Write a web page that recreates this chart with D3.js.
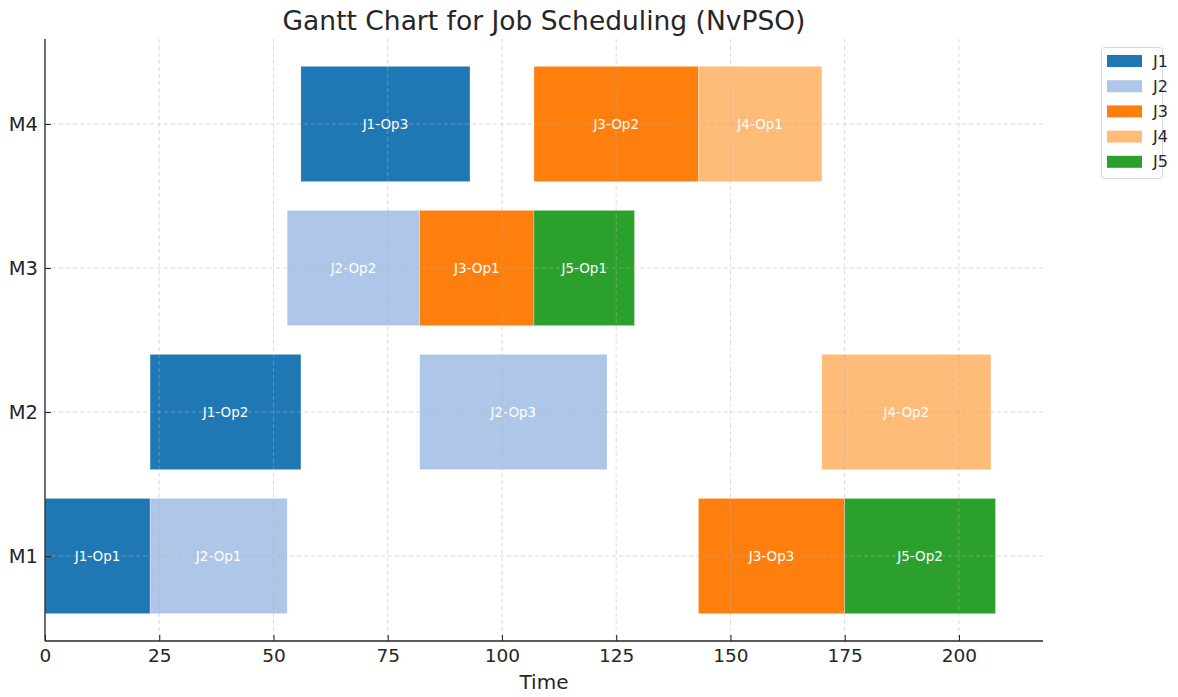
<!DOCTYPE html>
<html><head><meta charset="utf-8">
<script src="https://cdn.jsdelivr.net/npm/d3@7"></script>
<style>body{margin:0;background:#fff;}svg{font-family:"DejaVu Sans",sans-serif;}</style>
</head><body><svg id="c" width="1178" height="697"></svg>
<script>
const machines = ["M1","M2","M3","M4"];
const jobs = ["J1","J2","J3","J4","J5"];
const jobColors = ["#1f77b4","#aec7e8","#ff7f0e","#ffbb78","#2ca02c"];
const opMachine = ["M1","M1","M1","M1","M2","M2","M2","M3","M3","M3","M4","M4","M4"];
const opJob     = ["J1","J2","J3","J5","J1","J2","J4","J2","J3","J5","J1","J3","J4"];
const opLabel   = ["J1-Op1","J2-Op1","J3-Op3","J5-Op2","J1-Op2","J2-Op3","J4-Op2","J2-Op2","J3-Op1","J5-Op1","J1-Op3","J3-Op2","J4-Op1"];
const opStart   = [0,23,143,175,23,82,170,53,82,107,56,107,143];
const opEnd     = [23,53,175,208,56,123,207,82,107,129,93,143,170];
const xTicks = [0,25,50,75,100,125,150,175,200];

const svg = d3.select("#c");
const L=45,R=1043,T=39,B=641;
const maxEnd = d3.max(opEnd);
const x = d3.scaleLinear().domain([0, maxEnd*1.05]).range([L,R]);
const y = d3.scaleLinear().domain([-0.59, 3.59]).range([B,T]);
const color = d3.scaleOrdinal().domain(jobs).range(jobColors);
const bh = y(0)-y(0.8);

const ops = opLabel.map((l,i)=>({label:l,m:opMachine[i],j:opJob[i],s:opStart[i],e:opEnd[i]}));
const g = svg.append("g");
g.selectAll("rect.bar").data(ops).enter().append("rect")
 .attr("x",d=>x(d.s)).attr("width",d=>x(d.e)-x(d.s))
 .attr("y",d=>y(machines.indexOf(d.m)+0.4)).attr("height",bh)
 .attr("fill",d=>color(d.j)).attr("stroke","#fff").attr("stroke-opacity",0.4).attr("stroke-width",0.6);

// grid on top
const grid = svg.append("g").attr("stroke","#b0b0b0").attr("stroke-opacity",0.6).attr("stroke-dasharray","4,3").attr("stroke-width",0.8);
xTicks.forEach(t=>grid.append("line").attr("x1",x(t)).attr("x2",x(t)).attr("y1",T).attr("y2",B));
machines.forEach((m,i)=>grid.append("line").attr("x1",L).attr("x2",R).attr("y1",y(i)).attr("y2",y(i)));

g.selectAll("text.lbl").data(ops).enter().append("text")
 .attr("x",d=>x((d.s+d.e)/2)).attr("y",d=>y(machines.indexOf(d.m)))
 .attr("dy","0.35em").attr("text-anchor","middle").attr("fill","#fff").attr("font-size",13.5)
 .text(d=>d.label);

// axes
const xa = svg.append("g").attr("transform",`translate(0,${B})`)
 .call(d3.axisBottom(x).tickValues(xTicks).tickSizeInner(-6).tickSizeOuter(0).tickPadding(8));
xa.select(".domain").attr("stroke","#262626").attr("stroke-width",1.3).attr("d",`M${L},0H${R}`);
xa.selectAll(".tick line").attr("stroke","#262626").attr("stroke-width",1.1);
xa.selectAll(".tick text").attr("font-size",18.5).attr("fill","#262626").attr("font-family","DejaVu Sans");

const ya = svg.append("g").attr("transform",`translate(${L},0)`)
 .call(d3.axisLeft(y).tickValues([0,1,2,3]).tickFormat(i=>machines[i]).tickSizeInner(-6).tickSizeOuter(0).tickPadding(7));
ya.select(".domain").attr("stroke","#262626").attr("stroke-width",1.3).attr("d",`M0,${B}V${T}`);
ya.selectAll(".tick line").attr("stroke","#262626").attr("stroke-width",1.1);
ya.selectAll(".tick text").attr("font-size",19.5).attr("fill","#262626").attr("font-family","DejaVu Sans");

svg.append("text").attr("x",(L+R)/2).attr("y",689).attr("text-anchor","middle").attr("font-size",20).attr("fill","#262626").text("Time");
svg.append("text").attr("x",(L+R)/2).attr("y",30).attr("text-anchor","middle").attr("font-size",26.5).attr("fill","#262626").text("Gantt Chart for Job Scheduling (NvPSO)");

// legend
const lg = svg.append("g");
lg.append("rect").attr("x",1101.5).attr("y",47.5).attr("width",61).attr("height",131).attr("rx",3)
 .attr("fill","#fff").attr("stroke","#d6d6d6");
jobs.forEach((j,i)=>{
  const yy = 61 + i*25.2;
  lg.append("rect").attr("x",1107).attr("y",yy-6).attr("width",35).attr("height",12).attr("fill",color(j));
  lg.append("text").attr("x",1153).attr("y",yy).attr("dy","0.35em").attr("font-size",16).attr("fill","#262626").text(j);
});
</script></body></html>
